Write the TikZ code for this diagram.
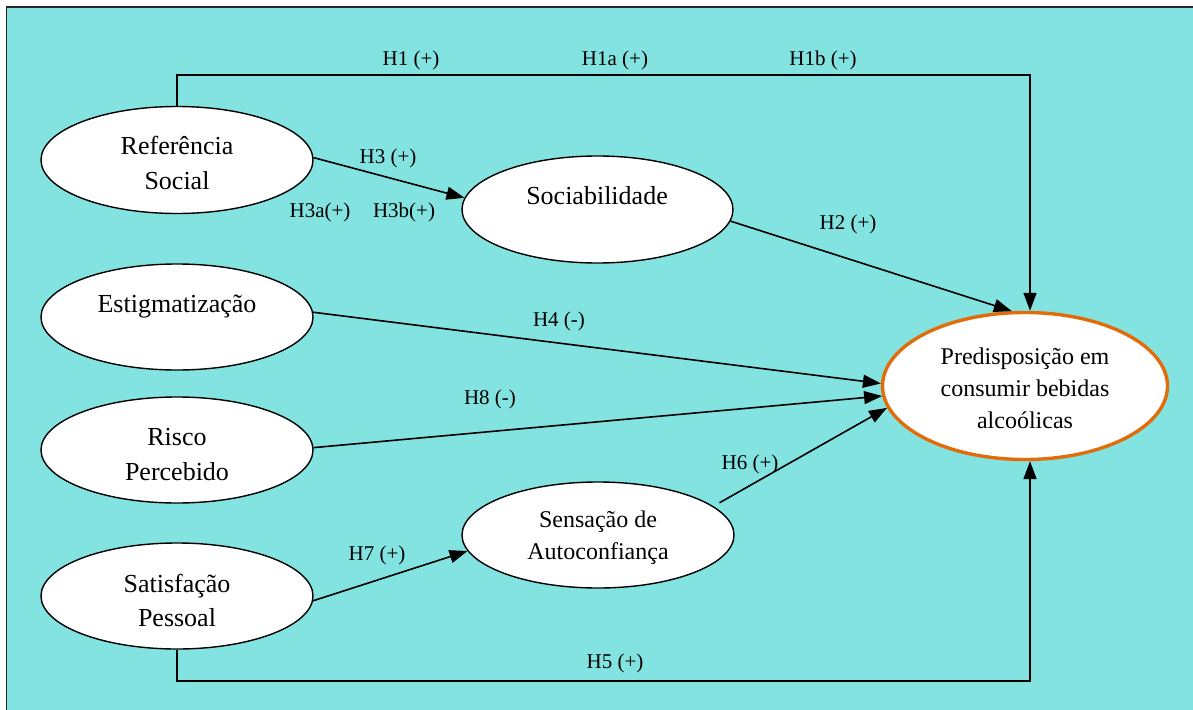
\documentclass[tikz,border=0pt]{standalone}
\usepackage{fontspec}
\setmainfont{Liberation Serif}
\usetikzlibrary{shapes.geometric,arrows.meta}
\definecolor{bgcyan}{RGB}{131,227,224}
\definecolor{predorange}{RGB}{227,108,10}
\begin{document}
\begin{tikzpicture}[x=1pt,y=-1pt,
  ell/.style={ellipse, draw=black, fill=white, line width=1.4pt, inner sep=0pt},
  txtA/.style={anchor=base, font=\fontsize{26}{35}\selectfont, inner sep=0pt},
  txtB/.style={anchor=base, font=\fontsize{24}{32}\selectfont, inner sep=0pt},
  hlbl/.style={anchor=base, font=\fontsize{21}{25}\selectfont, inner sep=0pt},
  conn/.style={line width=1.6pt, -{Triangle[length=18pt,width=13pt]}}
]
\useasboundingbox (0,0) rectangle (1193,709);
\clip (0,0) rectangle (1193,709);
\draw[fill=bgcyan, draw=black!85, line width=1.5pt] (6.5,7) rectangle (1215,725);

% ellipses
\node[ell, minimum width=272pt, minimum height=107pt] (rs) at (177,160) {};
\node[ell, minimum width=272pt, minimum height=106pt] (est) at (177,317) {};
\node[ell, minimum width=272pt, minimum height=106pt] (risco) at (177,450) {};
\node[ell, minimum width=272pt, minimum height=106pt] (sat) at (177,596) {};
\node[ell, minimum width=271pt, minimum height=107pt] (soc) at (597.5,209.5) {};
\node[ell, minimum width=272pt, minimum height=106pt] (sens) at (598,535) {};
\node[ell, draw=predorange, line width=3.4pt, minimum width=285pt, minimum height=147pt] (pred) at (1025,386) {};

% texts
\node[txtA] (rs1) at (177,154) {Referência};
\node[txtA] (rs2) at (177,189) {Social};
\node[txtA] (soct) at (597,204) {Sociabilidade};
\node[txtA] (estt) at (177,312) {Estigmatização};
\node[txtA] (ri1) at (177,445) {Risco};
\node[txtA] (ri2) at (177,480) {Percebido};
\node[txtA] (sa1) at (177,592) {Satisfação};
\node[txtA] (sa2) at (177,626) {Pessoal};
\node[txtB] (se1) at (598,527) {Sensação de};
\node[txtB] (se2) at (598,559) {Autoconfiança};
\node[txtB] (pr1) at (1025,364) {Predisposição em};
\node[txtB] (pr2) at (1025,396) {consumir bebidas};
\node[txtB] (pr3) at (1025,428) {alcoólicas};

% connectors
\coordinate (h1c) at (1030,75);
\draw[conn] (rs.north) |- (h1c) -- (h1c |- pred.north);
\coordinate (h5c) at (1030,681);
\draw[conn] (sat.south) |- (h5c) -- (h5c |- pred.south);
\draw[conn] (rs.1) -- (soc.175);
\draw[conn] (soc.-5) -- (pred.100);
\draw[conn] (est.2) -- (pred.179);
\draw[conn] (risco.1) -- (pred.184);
\draw[conn, shorten <=7pt] (sens.14) -- (pred.189);
\draw[conn] (sat.-2) -- (sens.187);

% labels
\node[hlbl] (l1) at (411,65) {H1 (+)};
\node[hlbl] (l1a) at (615,65) {H1a (+)};
\node[hlbl] (l1b) at (823,65) {H1b (+)};
\node[hlbl] (l3) at (388,163) {H3 (+)};
\node[hlbl] (l3a) at (320,217) {H3a(+)};
\node[hlbl] (l3b) at (404,217) {H3b(+)};
\node[hlbl] (l2) at (848,229) {H2 (+)};
\node[hlbl] (l4) at (559,326) {H4 (-)};
\node[hlbl] (l8) at (490,404) {H8 (-)};
\node[hlbl] (l6) at (750,469) {H6 (+)};
\node[hlbl] (l7) at (377,560) {H7 (+)};
\node[hlbl] (l5) at (615,668) {H5 (+)};
\end{tikzpicture}
\end{document}
